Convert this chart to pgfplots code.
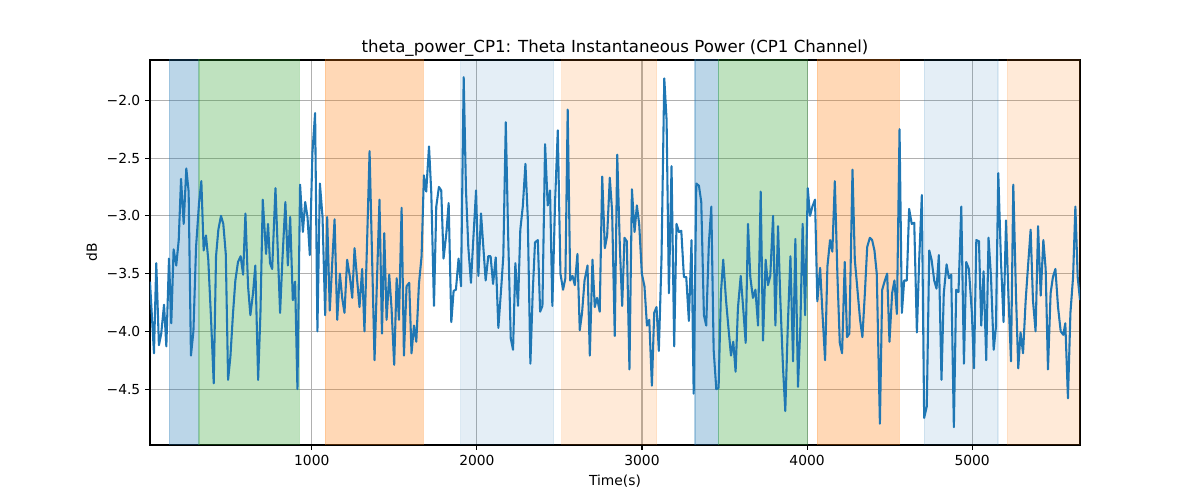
\documentclass[border=0pt]{standalone}
\usepackage{fontspec}
\setmainfont{DejaVu Sans}
\usepackage{pgfplots}
\pgfplotsset{compat=1.18}
\definecolor{tabblue}{HTML}{1F77B4}
\definecolor{taborange}{HTML}{FF7F0E}
\definecolor{tabgreen}{HTML}{2CA02C}
\definecolor{gridgray}{HTML}{B0B0B0}

% shaded interval: colour, opacity
\pgfplotsset{
  band/.style 2 args={fill=#1,fill opacity=#2,draw=#1,draw opacity=#2,line width=0.8pt,forget plot},
}

\begin{document}
\begin{tikzpicture}
\path (-1.5in,-0.55in) rectangle (10.5in,4.45in);
\begin{axis}[
  scale only axis,
  width=9.3in,height=3.85in,
  xmin=20,xmax=5653,ymin=-4.984,ymax=-1.651,
  xtick={1000,2000,3000,4000,5000},
  xticklabels={1000,2000,3000,4000,5000},
  ytick={-2,-2.5,-3,-3.5,-4,-4.5},
  yticklabels={−2.0,−2.5,−3.0,−3.5,−4.0,−4.5},
  xtick pos=bottom,ytick pos=left,
  tick align=outside,
  major tick length=3.5pt,
  tick style={black,line width=0.8pt},
  axis line style={black,line width=0.8pt},
  grid=major,
  grid style={gridgray,line width=0.8pt},
  tick label style={font=\fontsize{10}{12}\selectfont},
  label style={font=\fontsize{10}{12}\selectfont},
  title style={font=\fontsize{12}{14}\selectfont,yshift=-6.8pt},
  title={theta\_power\_CP1: Theta Instantaneous Power (CP1 Channel)},
  xlabel={Time(s)},
  ylabel={dB},
]
% behaviour intervals
\addplot[band={tabblue}{0.3}]     coordinates {(137,-6) (313,-6) (313,0) (137,0) (137,-6)};
\addplot[band={tabgreen}{0.3}]    coordinates {(317,-6) (923,-6) (923,0) (317,0) (317,-6)};
\addplot[band={taborange}{0.3}]   coordinates {(1083,-6) (1675,-6) (1675,0) (1083,0) (1083,-6)};
\addplot[band={tabblue}{0.12}]    coordinates {(1902,-6) (2464,-6) (2464,0) (1902,0) (1902,-6)};
\addplot[band={taborange}{0.16}]  coordinates {(2514,-6) (3088,-6) (3088,0) (2514,0) (2514,-6)};
\addplot[band={tabblue}{0.3}]     coordinates {(3321,-6) (3462,-6) (3462,0) (3321,0) (3321,-6)};
\addplot[band={tabgreen}{0.3}]    coordinates {(3462,-6) (4002,-6) (4002,0) (3462,0) (3462,-6)};
\addplot[band={taborange}{0.3}]   coordinates {(4062,-6) (4558,-6) (4558,0) (4062,0) (4062,-6)};
\addplot[band={tabblue}{0.12}]    coordinates {(4709,-6) (5156,-6) (5156,0) (4709,0) (4709,-6)};
\addplot[band={taborange}{0.16}]  coordinates {(5213,-6) (5700,-6) (5700,0) (5213,0) (5213,-6)};

% theta power
\addplot[tabblue,line width=1.5pt,line join=round] coordinates {
(20,-3.57)(44,-4.19)(58,-3.41)(74,-4.12)(88,-4.02)(105,-3.77)(119,-4.13)(135,-3.37)(149,-3.93)(163,-3.29)
(179,-3.43)(194,-3.21)(208,-2.68)(224,-3.07)(240,-2.59)(254,-2.79)(268,-4.21)(283,-4.00)(299,-3.27)(317,-2.89)
(331,-2.70)(345,-3.30)(359,-3.17)(373,-3.38)(390,-3.90)(406,-4.45)(420,-3.35)(434,-3.12)(450,-3.00)(464,-3.07)
(479,-3.33)(493,-4.42)(507,-4.22)(523,-3.84)(537,-3.56)(553,-3.40)(569,-3.35)(584,-3.51)(598,-2.98)(614,-3.61)
(628,-3.86)(644,-3.67)(658,-3.43)(675,-4.42)(689,-3.84)(703,-2.86)
(723,-3.33)(735,-3.07)(747,-3.41)(760,-3.46)(780,-2.76)(794,-3.30)(808,-3.84)(822,-3.38)(840,-2.88)(855,-3.43)
(869,-3.01)(885,-3.73)(899,-3.57)(913,-4.50)(929,-2.73)(946,-3.14)(960,-2.88)(974,-3.01)(988,-3.34)(1004,-2.45)
(1020,-2.11)(1034,-4.00)(1049,-2.72)(1065,-3.01)(1081,-3.86)(1093,-3.01)(1109,-3.82)(1124,-3.40)(1138,-3.03)(1154,-3.90)
(1170,-3.50)(1184,-3.71)(1198,-3.84)(1214,-3.38)(1231,-3.53)(1245,-3.71)(1259,-3.28)(1275,-3.56)(1289,-3.79)(1305,-3.46)
(1319,-4.00)(1335,-3.22)(1350,-2.44)(1365,-3.35)(1380,-4.25)(1395,-3.55)(1410,-2.86)(1425,-4.02)
(1439,-3.15)(1453,-3.90)(1469,-3.51)(1483,-3.80)(1499,-4.29)(1514,-3.54)(1528,-3.90)(1544,-2.93)(1558,-4.21)(1574,-3.61)
(1590,-3.58)(1604,-4.19)(1619,-3.95)(1633,-4.09)(1649,-3.59)(1665,-3.35)(1679,-2.65)(1693,-2.79)(1710,-2.40)(1724,-2.81)
(1740,-3.78)(1754,-2.92)(1770,-2.75)(1784,-2.78)(1798,-3.37)(1815,-3.15)(1829,-2.89)(1845,-3.92)(1859,-3.65)(1873,-3.64)
(1889,-3.37)(1904,-3.61)(1920,-1.80)(1934,-2.78)(1948,-3.27)(1964,-3.58)(1978,-3.21)(1995,-2.78)(2009,-3.52)(2025,-2.98)
(2039,-3.27)(2053,-3.56)(2069,-3.35)(2083,-3.35)(2098,-3.59)(2114,-3.36)(2130,-3.97)
(2148,-3.61)(2160,-3.35)(2175,-2.19)(2189,-3.15)(2205,-4.06)(2219,-4.16)(2233,-3.41)(2249,-3.78)(2263,-3.12)(2278,-2.92)
(2294,-2.55)(2308,-3.01)(2324,-4.28)(2338,-3.67)(2352,-3.23)(2369,-3.21)(2383,-3.83)(2397,-3.78)(2413,-2.38)(2429,-2.91)
(2443,-2.78)(2457,-3.78)(2474,-2.86)(2490,-2.26)(2506,-3.50)(2522,-3.64)(2536,-3.54)(2550,-2.08)(2565,-3.56)(2579,-3.52)
(2593,-3.60)(2609,-3.33)(2623,-3.99)(2637,-3.84)(2652,-3.56)(2670,-3.43)(2684,-4.21)(2700,-3.38)(2714,-3.79)(2728,-3.71)
(2744,-3.83)(2759,-2.66)(2775,-3.28)(2789,-3.17)(2805,-2.67)(2819,-2.96)(2835,-4.04)(2850,-2.47)
(2866,-3.27)(2880,-3.78)(2894,-3.19)(2908,-3.22)(2924,-4.33)(2939,-2.77)(2955,-3.14)(2969,-2.91)(2983,-3.07)(2999,-3.50)
(3015,-3.61)(3030,-3.95)(3044,-3.90)(3060,-4.47)(3074,-3.84)(3088,-3.79)(3102,-4.17)(3118,-3.38)(3135,-1.81)(3149,-2.17)
(3163,-3.67)(3179,-2.57)(3195,-4.13)(3209,-3.07)(3224,-3.14)(3238,-3.13)(3254,-3.53)(3268,-3.53)(3284,-3.91)(3300,-3.21)
(3313,-4.54)(3329,-2.72)(3345,-2.74)(3359,-2.88)(3375,-3.86)(3389,-3.95)(3405,-3.24)(3420,-2.92)(3434,-4.16)(3450,-4.50)
(3464,-4.49)(3478,-3.67)(3492,-3.38)(3509,-3.73)(3523,-3.96)(3539,-4.21)(3553,-4.09)(3567,-4.35)
(3581,-3.80)(3598,-3.52)(3614,-3.82)(3628,-4.10)(3642,-3.07)(3656,-3.53)(3672,-3.71)(3687,-3.64)(3703,-3.95)(3719,-2.79)
(3733,-4.08)(3749,-3.38)(3763,-3.60)(3777,-3.52)(3794,-3.00)(3808,-3.95)(3824,-3.09)(3838,-3.73)(3854,-4.31)(3868,-4.69)
(3883,-3.96)(3899,-3.35)(3915,-4.26)(3929,-3.20)(3945,-4.48)(3959,-3.96)(3973,-3.07)(3988,-3.86)(4004,-2.76)(4018,-3.00)
(4032,-2.92)(4048,-2.86)(4062,-3.74)(4079,-3.45)(4093,-3.84)(4109,-4.25)(4123,-3.44)(4139,-3.21)(4153,-3.31)(4168,-2.70)
(4184,-3.53)(4198,-4.10)(4212,-4.19)(4228,-3.40)(4242,-4.05)(4256,-4.02)(4275,-2.60)
(4289,-3.38)(4305,-3.64)(4321,-3.90)(4335,-4.05)(4350,-3.67)(4364,-3.27)(4380,-3.19)(4394,-3.21)(4408,-3.30)(4422,-3.50)
(4441,-4.80)(4455,-3.64)(4469,-3.57)(4485,-3.50)(4499,-4.09)(4515,-3.67)(4529,-3.56)(4544,-3.85)(4560,-2.25)(4574,-3.84)
(4588,-3.56)(4604,-3.56)(4618,-2.94)(4634,-3.07)(4649,-3.06)(4665,-4.01)(4679,-3.38)(4695,-2.82)(4709,-4.75)(4725,-4.65)
(4740,-3.30)(4754,-3.38)(4770,-3.56)(4784,-3.63)(4798,-3.34)(4814,-4.42)(4828,-3.67)(4845,-3.42)(4859,-3.54)(4873,-3.51)
(4889,-4.83)(4903,-3.64)(4917,-3.66)(4934,-2.92)(4950,-4.28)(4964,-3.40)(4980,-3.46)
(4998,-3.84)(5011,-4.32)(5025,-3.21)(5041,-3.22)(5055,-3.95)(5069,-3.48)(5085,-4.25)(5099,-3.19)(5114,-3.53)(5130,-4.16)
(5144,-3.96)(5158,-2.63)(5174,-3.38)(5190,-3.92)(5205,-3.04)(5219,-3.67)(5235,-4.26)(5249,-2.73)(5265,-3.67)(5279,-4.32)
(5293,-4.01)(5308,-4.19)(5324,-3.73)(5338,-3.44)(5354,-3.12)(5368,-3.73)(5384,-4.00)(5399,-3.09)(5415,-3.69)(5431,-3.21)
(5445,-3.46)(5459,-4.33)(5475,-3.67)(5489,-3.53)(5504,-3.46)(5520,-3.79)(5536,-4.00)(5552,-4.03)(5564,-3.93)(5580,-4.58)
(5595,-3.84)(5611,-3.53)(5625,-2.92)(5639,-3.53)(5653,-3.73)
};
\end{axis}
\end{tikzpicture}
\end{document}
